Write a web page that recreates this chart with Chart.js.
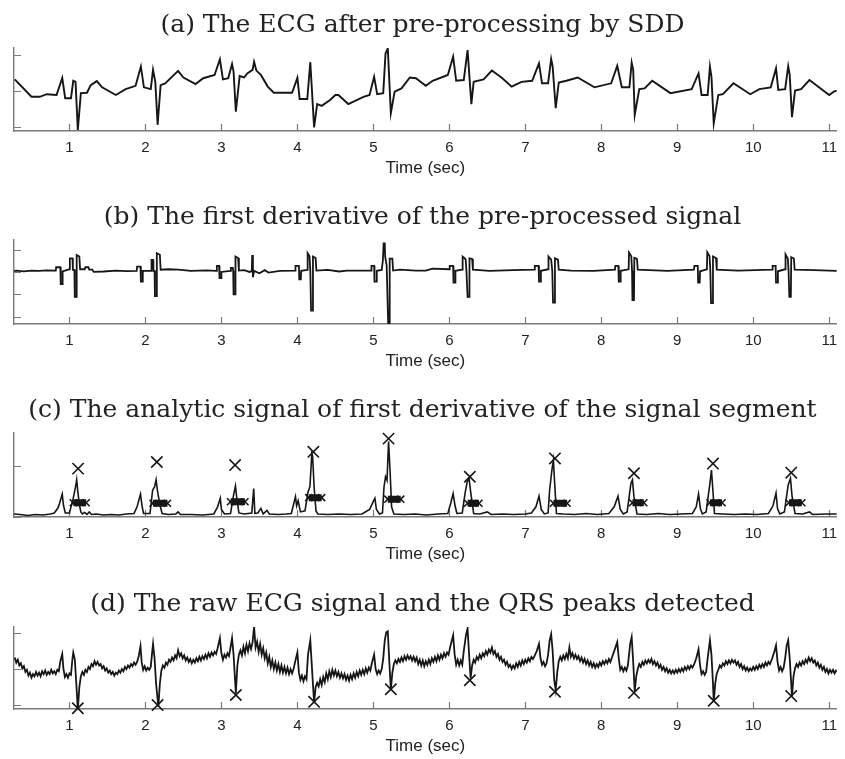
<!DOCTYPE html>
<html lang="en">
<head>
<meta charset="UTF-8">
<title>ECG QRS detection</title>
<style>
  body { margin: 0; background: #fff; overflow: hidden; }
  .panel { position: absolute; left: 0; }
</style>
</head>
<body>
<canvas id="chartA" class="panel" width="845" height="190" style="top:0px"></canvas>
<canvas id="chartB" class="panel" width="845" height="191" style="top:192px"></canvas>
<canvas id="chartC" class="panel" width="845" height="191" style="top:385px"></canvas>
<canvas id="chartD" class="panel" width="845" height="180" style="top:579px"></canvas>

<script src="https://cdn.jsdelivr.net/npm/chart.js"></script>
<script>
// --- data: [time (sec), amplitude] ---
const panelTitles = [
  '(a) The ECG after pre-processing by SDD',
  '(b) The first derivative of the pre-processed signal',
  '(c) The analytic signal of first derivative of the signal segment',
  '(d) The raw ECG signal and the QRS peaks detected'
];
const timeTicks = [1, 2, 3, 4, 5, 6, 7, 8, 9, 10, 11];
const yTicksA = [-1, 0, 1];
const yTicksB = [-2, -1, 0, 1];
const yTicksC = [0, 1];
const yTicksD = [-1, 0, 1];

const ecgA = [
  [0.28,0.32],[0.50,-0.16],[0.61,-0.16],[0.70,-0.09],[0.83,-0.11],[0.905,0.36],[0.944,-0.20],[1.02,-0.20],[1.05,0.28],[1.08,0.25],
  [1.11,-1.07],[1.15,-0.06],[1.23,-0.05],[1.28,0.16],[1.36,0.27],[1.43,0.10],[1.61,-0.11],[1.74,0.05],[1.87,0.14],[1.94,0.67],
  [1.98,0.10],[2.07,0.05],[2.10,0.58],[2.13,0.25],[2.16,-0.93],[2.20,0.16],[2.26,0.21],[2.43,0.55],[2.50,0.37],[2.66,0.19],
  [2.76,0.35],[2.91,0.44],[2.98,0.87],[3.02,0.32],[3.09,0.35],[3.14,0.74],[3.16,0.53],[3.19,-0.57],[3.24,0.41],[3.30,0.37],
  [3.34,0.48],[3.41,0.58],[3.43,0.80],[3.46,0.56],[3.52,0.44],[3.61,0.12],[3.69,-0.05],[3.93,-0.05],[4.00,0.36],[4.03,-0.22],
  [4.13,-0.22],[4.17,0.79],[4.22,-1.00],[4.26,-0.36],[4.32,-0.41],[4.43,-0.25],[4.50,-0.11],[4.54,-0.11],[4.67,-0.36],[4.87,-0.16],
  [4.95,-0.11],[5.01,0.39],[5.05,-0.09],[5.13,-0.06],[5.16,1.03],[5.19,1.17],[5.23,-0.61],[5.28,-0.02],[5.37,0.07],[5.48,0.37],
  [5.56,0.35],[5.69,0.14],[5.78,0.28],[5.98,0.44],[6.05,0.94],[6.09,0.28],[6.19,0.30],[6.24,1.12],[6.29,-0.36],[6.32,0.25],
  [6.45,0.32],[6.56,0.56],[6.69,0.36],[6.82,0.12],[6.95,0.25],[7.09,0.28],[7.18,0.76],[7.22,0.21],[7.30,0.21],[7.34,0.88],
  [7.36,0.67],[7.40,-0.47],[7.44,0.23],[7.54,0.28],[7.69,0.37],[7.91,0.10],[8.13,0.21],[8.21,0.69],[8.27,0.10],[8.37,0.10],
  [8.40,0.78],[8.42,0.58],[8.44,-0.66],[8.50,0.05],[8.57,0.07],[8.67,0.28],[8.91,-0.06],[9.19,0.05],[9.28,0.48],[9.32,-0.11],
  [9.40,-0.11],[9.43,0.67],[9.45,0.39],[9.48,-0.89],[9.54,-0.11],[9.60,-0.09],[9.74,0.21],[9.96,-0.09],[10.08,0.05],[10.23,0.10],
  [10.30,0.62],[10.33,0.03],[10.42,0.05],[10.46,0.68],[10.48,0.44],[10.51,-0.72],[10.55,0.01],[10.63,0.05],[10.74,0.30],[11.00,-0.11],
  [11.06,-0.02],[11.10,0.01]
];

const derivB = [
  [0.27,0.04],[0.30,0.06],[0.40,0.03],[0.50,0.06],[0.60,0.05],[0.70,0.07],[0.82,0.06],
  [0.825,0.21],[0.88,0.21],[0.885,-0.54],[0.905,-0.54],[0.91,0.02],[1.00,0.12],
  [1.005,0.61],[1.04,0.61],[1.045,0.09],[1.065,0.09],[1.07,-1.11],[1.09,-1.11],[1.095,0.76],[1.13,0.69],[1.14,0.12],
  [1.20,0.12],[1.21,0.21],[1.25,0.21],[1.26,0.10],[1.30,0.10],[1.32,0.0],[1.45,0.02],[1.61,0.06],[1.75,0.04],[1.885,0.05],
  [1.89,0.24],[1.935,0.24],[1.94,-0.43],[1.96,-0.43],[1.965,0.05],[2.075,0.05],
  [2.08,0.54],[2.10,0.54],[2.105,0.05],[2.12,0.05],[2.125,-1.08],[2.145,-1.08],[2.15,0.84],[2.19,0.77],[2.20,0.10],
  [2.30,0.12],[2.43,0.10],[2.60,0.05],[2.80,0.07],[2.935,0.05],
  [2.94,0.27],[2.97,0.27],[2.975,-0.28],[2.995,-0.28],[3.00,0.0],[3.12,0.05],
  [3.125,0.18],[3.15,0.18],[3.155,0.05],[3.16,-1.0],[3.18,-1.0],[3.185,0.69],[3.22,0.62],[3.23,0.06],
  [3.30,0.08],[3.37,0.0],[3.40,0.04],[3.405,0.76],[3.415,-0.24],[3.43,0.05],[3.50,-0.06],[3.57,0.08],[3.62,-0.03],[3.77,0.05],[3.97,0.06],
  [3.975,0.27],[4.02,0.27],[4.025,-0.33],[4.045,-0.33],[4.05,0.05],[4.13,0.09],
  [4.135,0.84],[4.16,0.70],[4.17,0.05],[4.18,-1.73],[4.20,-1.73],[4.205,0.69],[4.24,0.62],[4.25,0.06],
  [4.40,0.09],[4.55,0.02],[4.65,0.06],[4.97,0.06],
  [4.975,0.27],[5.01,0.27],[5.015,-0.43],[5.04,-0.43],[5.045,0.05],[5.11,0.09],
  [5.125,0.51],[5.135,1.28],[5.15,1.28],[5.155,0.70],[5.175,0.30],[5.195,-2.3],[5.21,-2.3],[5.215,0.60],[5.25,0.60],[5.26,0.06],
  [5.35,0.10],[5.56,0.06],[5.69,0.06],[5.78,0.15],[6.00,0.12],
  [6.005,0.27],[6.05,0.27],[6.055,-0.48],[6.075,-0.48],[6.08,0.05],[6.17,0.10],
  [6.175,0.69],[6.20,0.62],[6.215,0.55],[6.225,0.05],[6.24,-1.11],[6.26,-1.11],[6.265,0.61],[6.30,0.58],[6.31,0.10],
  [6.53,0.05],[6.84,0.08],[7.12,0.10],
  [7.125,0.27],[7.175,0.27],[7.18,-0.43],[7.20,-0.43],[7.205,0.05],[7.30,0.12],
  [7.305,0.69],[7.34,0.55],[7.355,0.05],[7.365,-1.37],[7.385,-1.37],[7.39,0.61],[7.43,0.55],[7.44,0.10],
  [7.60,0.06],[7.90,0.05],[8.18,0.10],
  [8.185,0.27],[8.225,0.27],[8.23,-0.43],[8.25,-0.43],[8.255,0.05],[8.36,0.12],
  [8.365,0.87],[8.395,0.70],[8.405,0.05],[8.41,-1.26],[8.43,-1.26],[8.435,0.63],[8.47,0.58],[8.48,0.10],
  [8.87,0.05],[9.22,0.10],
  [9.225,0.27],[9.27,0.27],[9.275,-0.48],[9.295,-0.48],[9.30,0.03],[9.39,0.12],
  [9.395,0.88],[9.425,0.70],[9.435,0.05],[9.445,-1.40],[9.465,-1.40],[9.47,0.69],[9.51,0.62],[9.52,0.10],
  [9.80,0.06],[10.25,0.10],
  [10.255,0.27],[10.295,0.27],[10.30,-0.48],[10.32,-0.48],[10.325,0.03],[10.42,0.12],
  [10.425,0.78],[10.455,0.60],[10.465,0.05],[10.475,-1.11],[10.495,-1.11],[10.50,0.66],[10.535,0.60],[10.545,0.10],
  [10.80,0.08],[11.10,0.05]
];

const analyticC = [
  [0.27,0.06],[0.35,0.05],[0.45,0.03],[0.55,0.05],[0.65,0.04],[0.75,0.06],[0.80,0.08],[0.85,0.18],[0.87,0.27],[0.905,0.45],
  [0.92,0.24],[0.945,0.08],[1.00,0.08],[1.02,0.20],[1.05,0.37],[1.08,0.59],[1.095,0.73],[1.11,0.50],[1.13,0.25],[1.15,0.10],
  [1.17,0.06],[1.20,0.09],[1.23,0.05],[1.26,0.10],[1.29,0.05],[1.35,0.06],[1.45,0.04],[1.55,0.05],[1.65,0.04],[1.75,0.06],
  [1.85,0.07],[1.89,0.20],[1.935,0.45],[1.955,0.22],[1.975,0.07],[2.06,0.07],[2.095,0.53],[2.12,0.59],[2.14,0.73],[2.16,0.50],
  [2.19,0.24],[2.22,0.07],[2.30,0.05],[2.40,0.06],[2.43,0.10],[2.46,0.05],[2.60,0.05],[2.75,0.04],[2.90,0.06],[2.95,0.20],
  [2.985,0.37],[3.00,0.15],[3.04,0.06],[3.12,0.07],[3.16,0.43],[3.185,0.61],[3.20,0.40],[3.23,0.08],[3.30,0.06],[3.40,0.08],
  [3.425,0.56],[3.44,0.07],[3.48,0.08],[3.52,0.17],[3.55,0.06],[3.60,0.13],[3.63,0.06],[3.75,0.05],[3.85,0.06],[3.92,0.07],
  [3.975,0.40],[3.99,0.22],[4.01,0.32],[4.04,0.10],[4.10,0.12],[4.14,0.49],[4.165,0.60],[4.19,1.25],[4.20,1.20],[4.22,0.60],
  [4.245,0.12],[4.27,0.06],[4.40,0.05],[4.55,0.06],[4.70,0.05],[4.85,0.06],[4.95,0.15],[5.02,0.37],[5.04,0.15],[5.08,0.06],
  [5.12,0.08],[5.14,0.59],[5.16,0.79],[5.18,0.72],[5.20,1.48],[5.22,0.90],[5.24,0.20],[5.27,0.06],[5.40,0.05],[5.55,0.06],
  [5.70,0.04],[5.85,0.06],[5.98,0.07],[6.02,0.28],[6.05,0.46],[6.075,0.22],[6.10,0.07],[6.17,0.08],[6.205,0.45],[6.235,0.69],
  [6.26,0.76],[6.28,0.50],[6.32,0.07],[6.40,0.06],[6.50,0.10],[6.55,0.05],[6.70,0.06],[6.85,0.05],[7.00,0.06],[7.08,0.08],
  [7.14,0.20],[7.18,0.41],[7.21,0.15],[7.25,0.06],[7.30,0.08],[7.32,0.53],[7.35,0.92],[7.37,1.12],[7.385,0.70],[7.41,0.07],
  [7.50,0.06],[7.65,0.05],[7.80,0.07],[7.95,0.05],[8.10,0.07],[8.17,0.20],[8.22,0.41],[8.25,0.15],[8.29,0.06],[8.34,0.10],
  [8.39,0.66],[8.41,0.73],[8.43,0.40],[8.47,0.06],[8.60,0.05],[8.75,0.07],[8.90,0.05],[9.05,0.06],[9.20,0.07],[9.25,0.20],
  [9.28,0.45],[9.305,0.16],[9.33,0.06],[9.38,0.10],[9.43,0.66],[9.45,0.92],[9.47,0.50],[9.49,0.07],[9.60,0.06],[9.75,0.05],
  [9.90,0.06],[10.05,0.05],[10.20,0.07],[10.26,0.22],[10.30,0.47],[10.32,0.16],[10.35,0.06],[10.41,0.10],[10.46,0.63],[10.49,0.76],
  [10.51,0.42],[10.55,0.07],[10.65,0.06],[10.74,0.10],[10.78,0.05],[10.95,0.06],[11.10,0.06]
];
const peakTimeC = [1.113, 2.15, 3.18, 4.21, 5.20, 6.27, 7.39, 8.43, 9.47, 10.50];
const peakValC  = [0.95, 1.08, 1.02, 1.28, 1.54, 0.79, 1.15, 0.86, 1.05, 0.87];
const barStartC = [1.05, 2.10, 3.12, 4.15, 5.19, 6.24, 7.37, 8.41, 9.43, 10.47];
const barEndC   = [1.22, 2.29, 3.31, 4.32, 5.36, 6.39, 7.55, 8.56, 9.59, 10.64];
const barLevelC = [0.28, 0.27, 0.30, 0.38, 0.35, 0.27, 0.27, 0.28, 0.28, 0.28];

const rawD = [
  [0.28,0.32],[0.30,0.18],[0.32,0.26],[0.34,0.10],[0.36,0.16],[0.38,0.02],[0.40,0.08],[0.42,-0.08],[0.44,-0.02],[0.46,-0.18],
  [0.48,-0.10],[0.50,-0.24],[0.52,-0.14],[0.54,-0.20],[0.56,-0.08],[0.58,-0.18],[0.60,-0.10],[0.62,-0.20],[0.64,-0.06],[0.66,-0.14],
  [0.68,-0.04],[0.70,-0.16],[0.72,-0.08],[0.74,-0.14],[0.76,-0.02],[0.78,-0.12],[0.80,-0.06],[0.82,-0.14],[0.84,-0.02],[0.86,-0.06],
  [0.88,0.22],[0.905,0.42],[0.92,0.02],[0.94,-0.22],[0.96,-0.14],[0.98,-0.24],[1.00,-0.12],[1.02,-0.16],[1.04,0.30],[1.05,0.46],
  [1.07,0.28],[1.09,-0.40],[1.11,-1.14],[1.13,-0.50],[1.15,-0.20],[1.17,-0.08],[1.19,-0.16],[1.21,-0.02],[1.23,-0.08],[1.25,0.06],
  [1.27,0.0],[1.29,0.14],[1.31,0.08],[1.33,0.22],[1.35,0.12],[1.37,0.20],[1.39,0.10],[1.41,0.14],[1.43,0.02],[1.45,0.08],
  [1.47,-0.04],[1.49,0.02],[1.51,-0.10],[1.53,-0.04],[1.55,-0.14],[1.57,-0.08],[1.59,-0.18],[1.61,-0.10],[1.63,-0.14],[1.65,-0.04],
  [1.67,-0.10],[1.69,0.0],[1.71,-0.06],[1.73,0.06],[1.75,0.0],[1.77,0.10],[1.79,0.04],[1.81,0.14],[1.83,0.08],[1.85,0.18],
  [1.87,0.12],[1.89,0.20],[1.91,0.34],[1.935,0.64],[1.95,0.20],[1.97,-0.02],[1.99,0.08],[2.01,-0.04],[2.03,0.04],[2.05,-0.02],
  [2.07,0.06],[2.09,0.50],[2.10,0.70],[2.12,0.30],[2.14,-0.40],[2.17,-1.05],[2.19,-0.40],[2.21,-0.04],[2.23,0.10],[2.25,0.04],
  [2.27,0.18],[2.29,0.12],[2.31,0.26],[2.33,0.20],[2.35,0.32],[2.37,0.24],[2.39,0.38],[2.41,0.30],[2.43,0.52],[2.45,0.36],
  [2.47,0.44],[2.49,0.30],[2.51,0.38],[2.53,0.24],[2.55,0.32],[2.57,0.20],[2.59,0.28],[2.61,0.16],[2.63,0.26],[2.65,0.18],
  [2.67,0.30],[2.69,0.22],[2.71,0.34],[2.73,0.24],[2.75,0.36],[2.77,0.28],[2.79,0.40],[2.81,0.30],[2.83,0.44],[2.85,0.34],
  [2.87,0.46],[2.89,0.38],[2.91,0.48],[2.93,0.42],[2.95,0.58],[2.98,0.86],[3.00,0.44],[3.02,0.26],[3.04,0.40],[3.06,0.32],
  [3.08,0.44],[3.10,0.36],[3.12,0.60],[3.14,0.86],[3.16,0.40],[3.19,-0.68],[3.21,0.10],[3.23,0.40],[3.25,0.52],[3.27,0.38],
  [3.29,0.62],[3.31,0.44],[3.33,0.68],[3.35,0.50],[3.37,0.72],[3.39,0.56],[3.41,0.74],[3.43,1.18],[3.45,0.60],[3.47,0.76],
  [3.49,0.48],[3.51,0.70],[3.53,0.40],[3.55,0.58],[3.57,0.30],[3.59,0.46],[3.61,0.16],[3.63,0.34],[3.65,0.06],[3.67,0.24],
  [3.69,0.0],[3.71,0.18],[3.73,-0.04],[3.75,0.14],[3.77,-0.08],[3.79,0.10],[3.81,-0.10],[3.83,0.06],[3.85,-0.12],[3.87,0.04],
  [3.89,-0.14],[3.91,0.0],[3.93,-0.12],[3.95,0.0],[3.97,0.20],[4.00,0.46],[4.02,-0.10],[4.04,-0.30],[4.06,-0.18],[4.08,-0.34],
  [4.10,-0.20],[4.12,-0.28],[4.14,0.40],[4.17,0.80],[4.19,0.10],[4.22,-0.95],[4.24,-0.50],[4.26,-0.38],[4.28,-0.48],[4.30,-0.28],
  [4.32,-0.44],[4.34,-0.22],[4.36,-0.36],[4.38,-0.12],[4.40,-0.28],[4.42,-0.06],[4.44,-0.22],[4.46,-0.02],[4.48,-0.18],[4.50,-0.04],
  [4.52,-0.20],[4.54,-0.08],[4.56,-0.24],[4.58,-0.12],[4.60,-0.26],[4.62,-0.14],[4.64,-0.30],[4.66,-0.18],[4.68,-0.32],[4.70,-0.16],
  [4.72,-0.28],[4.74,-0.12],[4.76,-0.24],[4.78,-0.08],[4.80,-0.20],[4.82,-0.04],[4.84,-0.16],[4.86,-0.02],[4.88,-0.14],[4.90,0.02],
  [4.92,-0.10],[4.94,0.04],[4.96,-0.04],[4.98,0.16],[5.01,0.40],[5.03,0.0],[5.05,-0.14],[5.07,-0.04],[5.09,-0.12],[5.11,0.0],
  [5.13,0.30],[5.15,0.80],[5.17,1.02],[5.19,1.05],[5.21,0.20],[5.23,-0.58],[5.25,-0.10],[5.27,0.14],[5.29,0.24],[5.31,0.16],
  [5.33,0.28],[5.35,0.20],[5.37,0.32],[5.39,0.22],[5.41,0.36],[5.43,0.26],[5.45,0.38],[5.47,0.28],[5.49,0.36],[5.51,0.24],
  [5.53,0.34],[5.55,0.22],[5.57,0.32],[5.59,0.14],[5.61,0.26],[5.63,0.10],[5.65,0.24],[5.67,0.08],[5.69,0.22],[5.71,0.12],
  [5.73,0.26],[5.75,0.14],[5.77,0.30],[5.79,0.20],[5.81,0.34],[5.83,0.22],[5.85,0.38],[5.87,0.26],[5.89,0.40],[5.91,0.30],
  [5.93,0.44],[5.95,0.34],[5.97,0.46],[5.99,0.40],[6.01,0.60],[6.05,0.94],[6.07,0.40],[6.09,0.12],[6.11,0.26],[6.13,0.10],
  [6.15,0.24],[6.17,0.12],[6.19,0.50],[6.22,0.96],[6.24,1.13],[6.26,0.40],[6.28,-0.26],[6.30,0.10],[6.32,0.26],[6.34,0.18],
  [6.36,0.34],[6.38,0.26],[6.40,0.40],[6.42,0.30],[6.44,0.44],[6.46,0.36],[6.48,0.50],[6.50,0.40],[6.52,0.54],[6.54,0.46],
  [6.56,0.60],[6.58,0.42],[6.60,0.50],[6.62,0.34],[6.64,0.42],[6.66,0.26],[6.68,0.34],[6.70,0.20],[6.72,0.26],[6.74,0.12],
  [6.76,0.20],[6.78,0.06],[6.80,0.12],[6.82,0.0],[6.84,0.10],[6.86,0.02],[6.88,0.16],[6.90,0.06],[6.92,0.20],[6.94,0.10],
  [6.96,0.24],[6.98,0.14],[7.00,0.26],[7.02,0.18],[7.04,0.30],[7.06,0.22],[7.08,0.34],[7.10,0.28],[7.12,0.36],[7.15,0.50],
  [7.18,0.70],[7.20,0.30],[7.22,0.12],[7.24,0.20],[7.26,0.08],[7.28,0.16],[7.30,0.40],[7.32,0.80],[7.34,0.97],[7.36,0.50],
  [7.38,-0.30],[7.40,-0.58],[7.42,-0.10],[7.44,0.22],[7.46,0.34],[7.48,0.24],[7.50,0.38],[7.52,0.28],[7.54,0.42],[7.56,0.30],
  [7.58,0.60],[7.60,0.34],[7.62,0.44],[7.64,0.30],[7.66,0.40],[7.68,0.28],[7.70,0.36],[7.72,0.22],[7.74,0.32],[7.76,0.18],
  [7.78,0.28],[7.80,0.14],[7.82,0.24],[7.84,0.10],[7.86,0.20],[7.88,0.06],[7.90,0.16],[7.92,0.04],[7.94,0.14],[7.96,0.06],
  [7.98,0.18],[8.00,0.10],[8.02,0.22],[8.04,0.14],[8.06,0.24],[8.08,0.16],[8.10,0.28],[8.12,0.20],[8.14,0.32],[8.17,0.50],
  [8.21,0.75],[8.23,0.30],[8.25,-0.02],[8.27,0.06],[8.29,-0.06],[8.31,0.04],[8.33,-0.04],[8.35,0.10],[8.38,0.70],[8.40,0.89],
  [8.42,0.20],[8.44,-0.63],[8.46,-0.20],[8.48,0.0],[8.50,0.14],[8.52,0.06],[8.54,0.20],[8.56,0.12],[8.58,0.24],[8.60,0.16],
  [8.62,0.26],[8.64,0.18],[8.66,0.28],[8.68,0.14],[8.70,0.22],[8.72,0.10],[8.74,0.18],[8.76,0.04],[8.78,0.12],[8.80,-0.02],
  [8.82,0.06],[8.84,-0.06],[8.86,0.02],[8.88,-0.10],[8.90,-0.02],[8.92,-0.12],[8.94,-0.04],[8.96,-0.12],[8.98,-0.02],[9.00,-0.10],
  [9.02,0.0],[9.04,-0.08],[9.06,0.02],[9.08,-0.06],[9.10,0.06],[9.12,-0.02],[9.14,0.08],[9.16,0.0],[9.18,0.10],[9.20,0.04],
  [9.22,0.12],[9.25,0.30],[9.28,0.55],[9.30,0.10],[9.32,-0.14],[9.34,-0.06],[9.36,-0.16],[9.38,-0.08],[9.40,0.30],[9.43,0.80],
  [9.45,0.40],[9.47,-0.40],[9.48,-0.91],[9.50,-0.40],[9.52,-0.12],[9.54,-0.02],[9.56,0.10],[9.58,0.04],[9.60,0.16],[9.62,0.10],
  [9.64,0.22],[9.66,0.14],[9.68,0.24],[9.70,0.16],[9.72,0.26],[9.74,0.18],[9.76,0.24],[9.78,0.12],[9.80,0.20],[9.82,0.06],
  [9.84,0.14],[9.86,0.0],[9.88,0.08],[9.90,-0.04],[9.92,0.04],[9.94,-0.06],[9.96,0.02],[9.98,-0.04],[10.00,0.06],[10.02,-0.02],
  [10.04,0.08],[10.06,0.0],[10.08,0.12],[10.10,0.04],[10.12,0.14],[10.14,0.06],[10.16,0.18],[10.18,0.10],[10.20,0.20],[10.22,0.14],
  [10.25,0.30],[10.28,0.50],[10.30,0.66],[10.32,0.20],[10.34,-0.04],[10.36,0.06],[10.38,-0.06],[10.40,0.04],[10.42,0.30],[10.44,0.66],
  [10.46,0.80],[10.48,0.30],[10.51,-0.77],[10.53,-0.20],[10.55,0.02],[10.57,0.14],[10.59,0.06],[10.61,0.18],[10.63,0.10],[10.65,0.22],
  [10.67,0.14],[10.69,0.26],[10.71,0.18],[10.73,0.32],[10.75,0.22],[10.77,0.30],[10.79,0.18],[10.81,0.24],[10.83,0.10],[10.85,0.18],
  [10.87,0.04],[10.89,0.12],[10.91,-0.02],[10.93,0.06],[10.95,-0.08],[10.97,0.0],[10.99,-0.12],[11.01,-0.02],[11.03,-0.10],[11.05,-0.02],
  [11.07,-0.12],[11.09,-0.04],[11.11,-0.08]
];
const peakTimeD = [1.11, 2.16, 3.19, 4.22, 5.23, 6.27, 7.39, 8.43, 9.48, 10.50];
const peakValD  = [-1.09, -1.00, -0.72, -0.91, -0.56, -0.31, -0.63, -0.66, -0.88, -0.75];

// --- drawing ---
const INK = '#161616';
const AXIS = '#7a7a7a';

// MATLAB-style tick marks pointing into the axes
const inwardTicks = {
  id: 'inwardTicks',
  beforeDatasetsDraw(chart) {
    const { ctx, chartArea: area, scales: { x, y } } = chart;
    ctx.save();
    ctx.strokeStyle = AXIS;
    ctx.lineWidth = 1.2;
    ctx.beginPath();
    x.ticks.forEach(t => {
      const px = Math.round(x.getPixelForValue(t.value)) + 0.5;
      ctx.moveTo(px, area.bottom);
      ctx.lineTo(px, area.bottom - 7);
    });
    y.ticks.forEach(t => {
      const py = Math.round(y.getPixelForValue(t.value)) + 0.5;
      ctx.moveTo(area.left, py);
      ctx.lineTo(area.left + 7, py);
    });
    ctx.stroke();
    ctx.restore();
  }
};

const toXY = pairs => pairs.map(p => ({ x: p[0], y: p[1] }));
const zipXY = (xs, ys) => xs.map((x, i) => ({ x: x, y: ys[i] }));

function traceSet(data, width) {
  return { data: data, borderColor: INK, borderWidth: width, pointRadius: 0, tension: 0, fill: false };
}
function markerSet(data) {
  return {
    data: data, showLine: false, pointStyle: 'crossRot', pointRadius: 8,
    pointBorderWidth: 1.6, pointBorderColor: INK, pointBackgroundColor: INK, clip: false
  };
}

function drawPanel(id, title, axisHeight, yMin, yMax, yTicks, datasets) {
  new Chart(document.getElementById(id), {
    type: 'line',
    data: { datasets: datasets },
    options: {
      responsive: false,
      animation: false,
      layout: { padding: 0, autoPadding: false },
      plugins: {
        legend: { display: false },
        tooltip: { enabled: false },
        title: {
          display: true, text: title, color: '#222',
          font: { family: 'DejaVu Serif', size: 25, weight: 'normal' },
          padding: { top: 10, bottom: 8 }
        }
      },
      scales: {
        x: {
          type: 'linear', min: 0.27, max: 11.1,
          afterBuildTicks: s => { s.ticks = timeTicks.map(v => ({ value: v })); },
          afterFit: s => { s.height = axisHeight; },
          grid: { display: false, drawTicks: false },
          border: { display: true, color: AXIS, width: 1.4 },
          ticks: {
            color: '#222', padding: 8, maxRotation: 0, autoSkip: false,
            font: { family: 'Liberation Sans', size: 15 },
            callback: v => String(v)
          },
          title: {
            display: true, text: 'Time (sec)', color: '#222',
            font: { family: 'Liberation Sans', size: 17 },
            padding: { top: 0, bottom: axisHeight - 48 }
          }
        },
        y: {
          min: yMin, max: yMax,
          afterBuildTicks: s => { s.ticks = yTicks.map(v => ({ value: v })); },
          afterFit: s => { s.width = 14; },
          grid: { display: false, drawTicks: false },
          border: { display: true, color: AXIS, width: 1.4 },
          ticks: { display: false }
        }
      }
    },
    plugins: [inwardTicks]
  });
}

// threshold bars of panel (c), one short thick segment per beat
const barData = [];
barStartC.forEach((s, i) => {
  barData.push({ x: s, y: barLevelC[i] }, { x: barEndC[i], y: barLevelC[i] }, { x: barEndC[i] + 0.01, y: null });
});

drawPanel('chartA', panelTitles[0], 59, -1.10, 1.18, yTicksA, [traceSet(toXY(ecgA), 1.9)]);
drawPanel('chartB', panelTitles[1], 59, -2.33, 1.43, yTicksB, [traceSet(toXY(derivB), 1.8)]);
drawPanel('chartC', panelTitles[2], 59, 0, 1.65, yTicksC, [
  markerSet(zipXY(peakTimeC, peakValC)),
  { data: barData, borderColor: INK, borderWidth: 7, borderCapStyle: 'butt', spanGaps: false,
    pointStyle: 'crossRot', pointRadius: 5, pointBorderWidth: 1.6, pointBorderColor: INK },
  traceSet(toXY(analyticC), 1.6)
]);
drawPanel('chartD', panelTitles[3], 50, -1.11, 1.17, yTicksD, [
  markerSet(zipXY(peakTimeD, peakValD)),
  traceSet(toXY(rawD), 1.8)
]);
</script>
</body>
</html>
